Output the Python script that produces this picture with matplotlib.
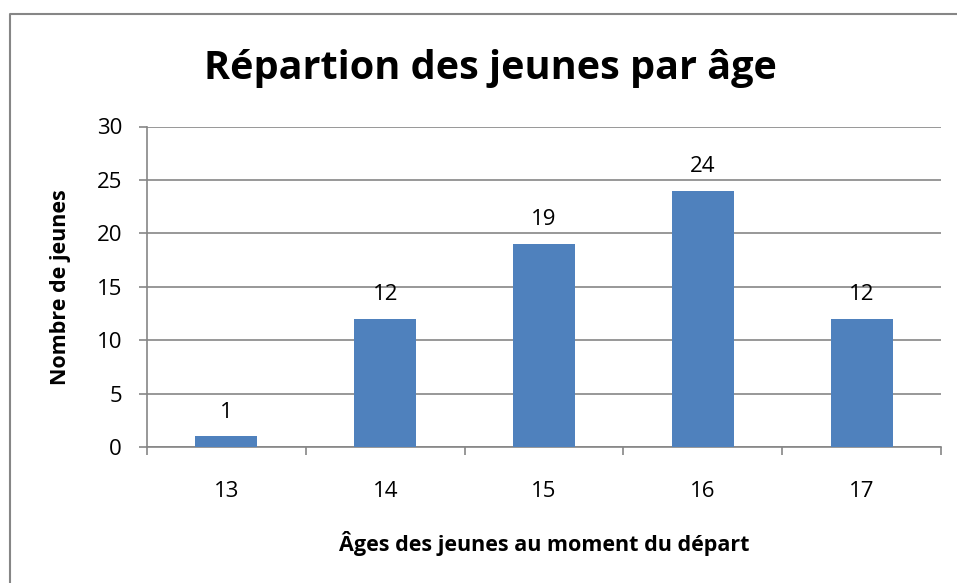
import matplotlib.pyplot as plt
from matplotlib.lines import Line2D

# chart data
ages = ['13', '14', '15', '16', '17']
counts = [1, 12, 19, 24, 12]

plt.rcParams['font.family'] = ['Open Sans', 'DejaVu Sans']

fig = plt.figure(figsize=(9.57, 5.83), dpi=100)
W, H = 957, 583
grey = '#868686'

# outer chart border: only the left and top edges are inside the picture
fig.lines.append(Line2D([9.5 / W, 9.5 / W, 1.0], [0.0, 1 - 14 / H, 1 - 14 / H],
                        transform=fig.transFigure, color=grey, linewidth=1.5))

ax = fig.add_axes([147 / W, 1 - 447 / H, (941 - 147) / W, (447 - 126.5) / H])
x = range(len(ages))
ax.bar(x, counts, width=0.39, color='#4f81bd', zorder=3)
for xi, v in zip(x, counts):
    ax.text(xi, v + 1.75, str(v), ha='center', va='baseline', fontsize=16)

ax.set_xlim(-0.5, len(ages) - 0.5)
ax.set_ylim(0, 30)
ax.set_yticks(range(0, 31, 5))
ax.yaxis.grid(True, color=grey, linewidth=1.2, zorder=0)
ax.set_xticks(x)
ax.set_xticklabels(ages, fontsize=16)
ax.set_xticks([i - 0.5 for i in range(len(ages) + 1)], minor=True)
ax.tick_params(axis='x', which='major', length=0, pad=24.5)
ax.tick_params(axis='x', which='minor', length=6, color=grey, width=1.2, direction='out')
ax.tick_params(axis='y', labelsize=16, length=6, color=grey, width=1.2, pad=12)
for s in ['top', 'right']:
    ax.spines[s].set_visible(False)
for s in ['left', 'bottom']:
    ax.spines[s].set_color(grey)
    ax.spines[s].set_linewidth(1.2)

ax.set_xlabel('Âges des jeunes au moment du départ', fontsize=15.5, fontweight='bold')
ax.set_ylabel('Nombre de jeunes', fontsize=15.5, fontweight='bold')
ax.xaxis.set_label_coords(0.5, (447 - 543) / 320.5)
ax.xaxis.label.set_va('center')
ax.yaxis.set_label_coords(-86 / 794, 0.5)
ax.yaxis.label.set_va('center')

fig.text(490 / W, 1 - 78.5 / H, 'Répartion des jeunes par âge', ha='center', va='baseline',
         fontsize=28.5, fontweight='bold')

fig.savefig('out.png', dpi=100)
